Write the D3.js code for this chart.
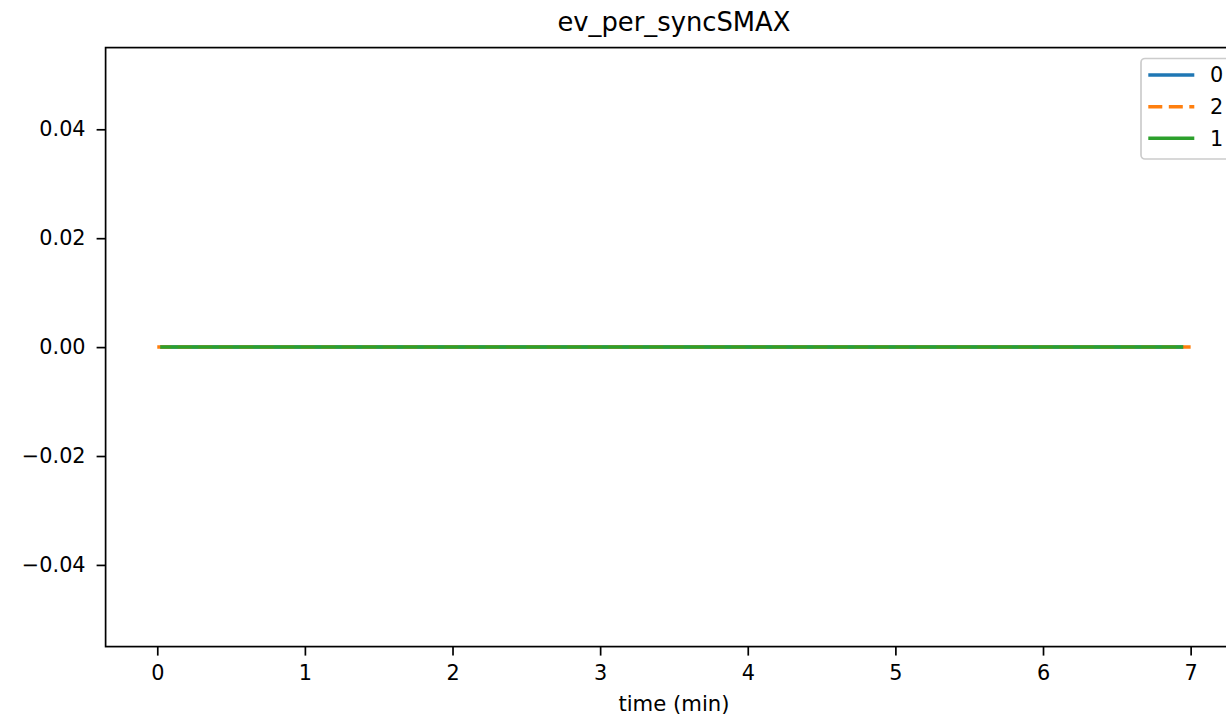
<!DOCTYPE html>
<html>
<head>
<meta charset="utf-8">
<script src="https://cdn.jsdelivr.net/npm/d3@7"></script>
<style>
  html, body { margin: 0; padding: 0; background: #fff; }
  svg { display: block; font-family: "DejaVu Sans", sans-serif; }
</style>
</head>
<body>
<svg id="chart" width="1226" height="716"></svg>
<script>
// ---- data ----
const chartTitle = "ev_per_syncSMAX";
const xLabel = "time (min)";
const seriesNames = ["0", "2", "1"];
const seriesColors = ["#1f77b4", "#ff7f0e", "#2ca02c"];
const time0 = [0.02, 1.0, 2.0, 3.0, 4.0, 5.0, 6.0, 6.95];
const values0 = [0, 0, 0, 0, 0, 0, 0, 0];
const time2 = [0.0, 1.0, 2.0, 3.0, 4.0, 5.0, 6.0, 7.0];
const values2 = [0, 0, 0, 0, 0, 0, 0, 0];
const time1 = [0.02, 1.0, 2.0, 3.0, 4.0, 5.0, 6.0, 6.95];
const values1 = [0, 0, 0, 0, 0, 0, 0, 0];
const xTicks = [0, 1, 2, 3, 4, 5, 6, 7];
const yTicks = [-0.04, -0.02, 0.00, 0.02, 0.04];

const series = [
  { name: seriesNames[0], color: seriesColors[0], dash: null, t: time0, v: values0 },
  { name: seriesNames[1], color: seriesColors[1], dash: "14,6.5", t: time2, v: values2 },
  { name: seriesNames[2], color: seriesColors[2], dash: null, t: time1, v: values1 }
];

// ---- layout ----
const svg = d3.select("#chart");
const L = 105.6, R = 1242.3, T = 47.6, B = 646.6;
const x = d3.scaleLinear().domain([-0.35, 7.35]).range([L, R]);
const y = d3.scaleLinear().domain([-0.055, 0.055]).range([B, T]);
const fs = 20.8;
const lw = 3.5;

// lines
const line = d3.line().x(d => x(d[0])).y(d => y(d[1]));
svg.append("defs").append("clipPath").attr("id", "clip")
  .append("rect").attr("x", L).attr("y", T).attr("width", R - L).attr("height", B - T);
const plot = svg.append("g").attr("clip-path", "url(#clip)");
series.forEach(s => {
  const pts = s.t.map((t, i) => [t, s.v[i]]);
  plot.append("path")
    .attr("d", line(pts))
    .attr("fill", "none")
    .attr("stroke", s.color)
    .attr("stroke-width", lw)
    .attr("stroke-dasharray", s.dash)
    .attr("stroke-linecap", "butt");
});

// axes
const xAxis = svg.append("g").attr("transform", `translate(0,${B})`)
  .call(d3.axisBottom(x).tickValues(xTicks).tickFormat(d3.format("d")).tickSize(9).tickPadding(10));
const yAxis = svg.append("g").attr("transform", `translate(${L},0)`)
  .call(d3.axisLeft(y).tickValues(yTicks).tickFormat(d3.format(".2f")).tickSize(9).tickPadding(11));
[xAxis, yAxis].forEach(a => {
  a.select(".domain").remove();
  a.selectAll("line").attr("stroke", "#000").attr("stroke-width", 1.7);
  a.selectAll("text").attr("font-size", fs).attr("fill", "#000")
    .attr("font-family", "DejaVu Sans, sans-serif");
});

// spines
svg.append("rect").attr("x", L).attr("y", T).attr("width", R - L).attr("height", B - T)
  .attr("fill", "none").attr("stroke", "#000").attr("stroke-width", 1.7);

// title & label
svg.append("text").attr("x", (L + R) / 2).attr("y", 31).attr("text-anchor", "middle")
  .attr("font-size", 25.8).text(chartTitle);
svg.append("text").attr("x", (L + R) / 2).attr("y", 711).attr("text-anchor", "middle")
  .attr("font-size", 21.2).text(xLabel);

// legend
const lg = svg.append("g");
lg.append("rect").attr("x", 1141).attr("y", 58.5).attr("width", 120).attr("height", 100.5)
  .attr("rx", 4).attr("fill", "#fff").attr("fill-opacity", 0.8)
  .attr("stroke", "#cccccc").attr("stroke-width", 1.7);
const legendY = [75, 106.7, 138.3];
series.forEach((s, i) => {
  lg.append("line").attr("x1", 1148.3).attr("x2", 1194.3)
    .attr("y1", legendY[i]).attr("y2", legendY[i])
    .attr("stroke", s.color).attr("stroke-width", lw)
    .attr("stroke-dasharray", s.dash);
  lg.append("text").attr("x", 1210).attr("y", legendY[i]).attr("dy", "0.36em")
    .attr("font-size", fs).text(s.name);
});
</script>
</body>
</html>
